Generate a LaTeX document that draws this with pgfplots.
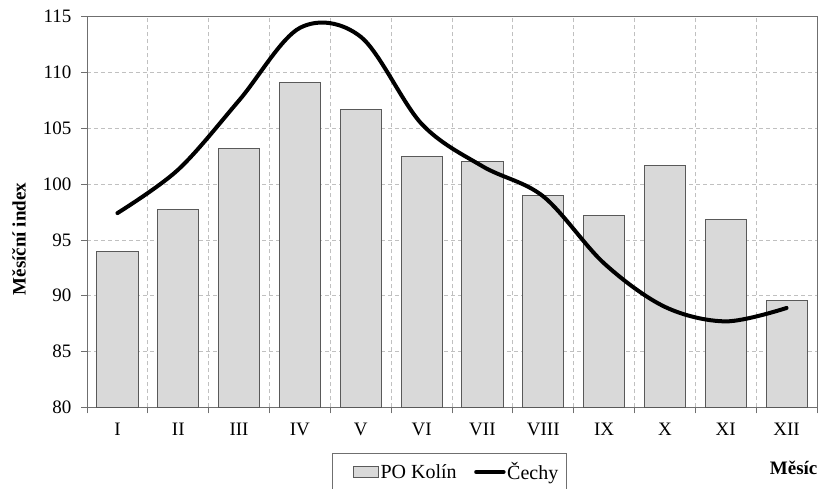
\documentclass[border=0pt]{standalone}
\usepackage{fontspec}
\setmainfont{Liberation Serif}
\usepackage{pgfplots}
\pgfplotsset{compat=1.18}
\definecolor{barfill}{HTML}{D9D9D9}
\definecolor{bardraw}{HTML}{595959}
\definecolor{gridc}{HTML}{C0C0C0}
\definecolor{framec}{HTML}{6F6F6F}
\newcommand{\tickfont}{\fontsize{19}{22}\selectfont}
\newcommand{\legfont}{\fontsize{20}{23}\selectfont}

\begin{document}
\begin{tikzpicture}
\useasboundingbox (-87pt,-80.7pt) rectangle (732pt,407.3pt);
\begin{axis}[
    scale only axis,
    width=730pt, height=390.6pt,
    xmin=0.5, xmax=12.5,
    ymin=80, ymax=115,
    xtick={0.5,1.5,...,12.5},
    x tick label as interval,
    xticklabels={I,II,III,IV,V,VI,VII,VIII,IX,X,XI,XII},
    ytick={80,85,...,115},
    grid=major,
    major grid style={gridc, dash pattern=on 4pt off 3pt, line width=0.7pt},
    tick align=outside, tick pos=left,
    major tick length=6pt,
    axis line style={framec, line width=0.8pt},
    tick style={framec, line width=0.8pt},
    /pgf/number format/assume math mode=true,
    ticklabel style={font=\tickfont},
    xticklabel style={yshift=-6pt},
    yticklabel style={xshift=-6pt},
    ylabel={\textbf{Měsíční index}},
    ylabel style={at={(axis description cs:-0.093,0.431)}, anchor=center,
        font=\fontsize{19}{22}\selectfont},
    xlabel={\textbf{Měsíc}},
    xlabel style={at={(axis description cs:0.968,-0.155)}, anchor=center, font=\tickfont},
    legend columns=2,
    legend style={at={(0.5,0)}, anchor=north, yshift=-46pt, xshift=-2.5pt,
        draw=framec, line width=0.8pt, font=\legfont,
        inner xsep=7pt, inner ysep=7pt,
        nodes={inner xsep=1.5pt},
        /tikz/every even column/.append style={column sep=16pt}},
]
\addplot[ybar, bar width=0.675, fill=barfill, draw=bardraw, line width=0.8pt,
    legend image code/.code={\path (0pt,0pt); \draw[fill=barfill, draw=bardraw, line width=0.8pt] (14pt,-5.5pt) rectangle (39pt,5.5pt);}]
    coordinates {
    (1,94.0) (2,97.7) (3,103.2) (4,109.1) (5,106.7) (6,102.5)
    (7,102.0) (8,99.0) (9,97.2) (10,101.7) (11,96.8) (12,89.6)
};
\addlegendentry{PO Kolín}
\addplot[black, line width=4pt, line cap=round, smooth, tension=0.55,
    legend image code/.code={\draw[black, line width=4.5pt] (0pt,0pt) -- (27pt,0pt);}]
    coordinates {
    (1,97.4) (2,101.3) (3,107.5) (4,114.0) (5,113.2) (6,105.4)
    (7,101.6) (8,98.9) (9,92.9) (10,89.0) (11,87.7) (12,88.9)
};
\addlegendentry{Čechy}
\end{axis}
\end{tikzpicture}
\end{document}
